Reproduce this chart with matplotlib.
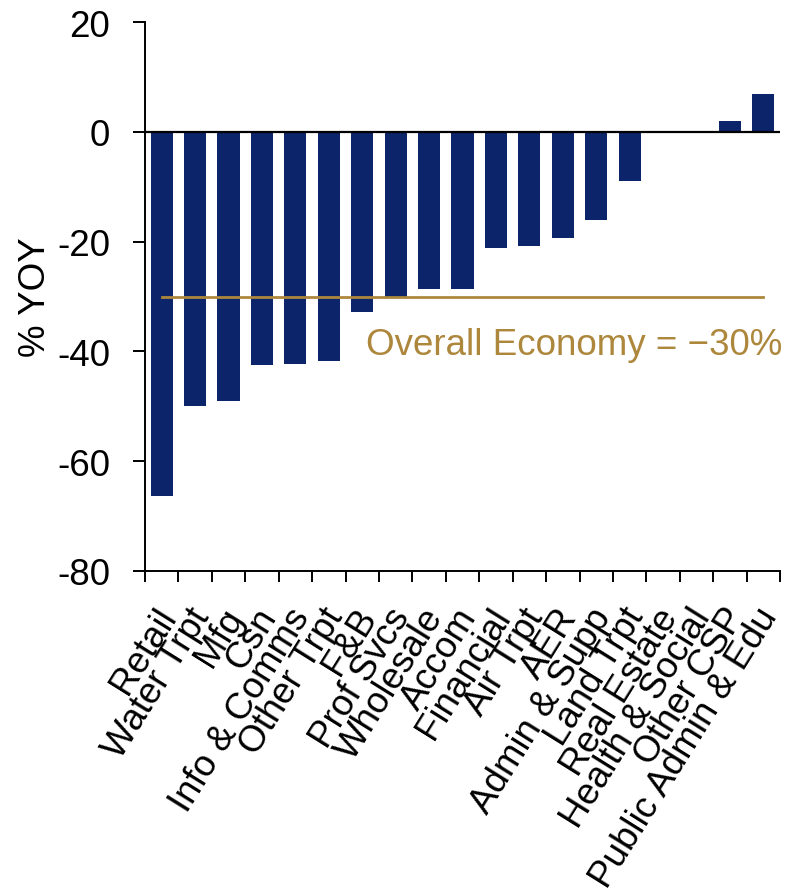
import matplotlib
matplotlib.use('Agg')
import matplotlib.pyplot as plt
from matplotlib import ticker
from matplotlib.transforms import ScaledTranslation
import numpy as np

plt.rcParams['font.family'] = ['Liberation Sans', 'DejaVu Sans']

sectors = ['Retail', 'Water Trpt', 'Mfg', 'Csn', 'Info & Comms', 'Other Trpt',
           'F&B', 'Prof Svcs', 'Wholesale', 'Accom', 'Financial', 'Air Trpt',
           'AER', 'Admin & Supp', 'Land Trpt', 'Real Estate', 'Health & Social',
           'Other CSP', 'Public Admin & Edu']
yoy = [-66.3, -50.0, -49.0, -42.5, -42.2, -41.7,
       -32.9, -30.1, -28.6, -28.6, -21.1, -20.7,
       -19.4, -16.0, -9.0, 0.0, 0.0,
       2.0, 7.0]
overall = -30

bar_color = '#0C2469'
line_color = '#AD873C'
fs = 26.5

fig = plt.figure(figsize=(7.92, 8.95), dpi=100)
ax = fig.add_axes([0.183, 0.361, 0.802, 0.613])

x = np.arange(len(sectors))
ax.bar(x, yoy, width=0.66, color=bar_color, zorder=2)
ax.axhline(0, color='black', linewidth=1.6, zorder=3)
ax.plot([x[0], x[-1]], [overall, overall], color=line_color, linewidth=2, zorder=4)
ax.text(6.1, -38.7, 'Overall Economy = \u221230%', color=line_color,
        fontsize=fs, va='center', ha='left')

ax.set_xlim(-0.5, len(sectors) - 0.5)
ax.set_ylim(-80, 20)
ax.spines['top'].set_visible(False)
ax.spines['right'].set_visible(False)
for s in ['left', 'bottom']:
    ax.spines[s].set_linewidth(1.4)

ax.yaxis.set_major_locator(ticker.MultipleLocator(20))
ax.yaxis.set_major_formatter(ticker.FuncFormatter(lambda v, p: '%d' % v))
ax.tick_params(axis='y', direction='out', length=9, width=1.4, labelsize=fs, pad=16)
ax.set_ylabel('% YOY', fontsize=fs, labelpad=3)

ax.set_xticks(x)
ax.set_xticklabels(sectors, rotation=58, ha='right', va='top', rotation_mode='anchor')
ax.set_xticks(np.arange(len(sectors) + 1) - 0.5, minor=True)
ax.tick_params(axis='x', which='major', length=0, labelsize=fs, pad=22)
ax.tick_params(axis='x', which='minor', direction='out', length=8, width=1.4)
shift = ScaledTranslation(-8 / 100, 0, fig.dpi_scale_trans)
for lbl in ax.get_xticklabels():
    lbl.set_transform(lbl.get_transform() + shift)

fig.savefig('out.png', dpi=100)
